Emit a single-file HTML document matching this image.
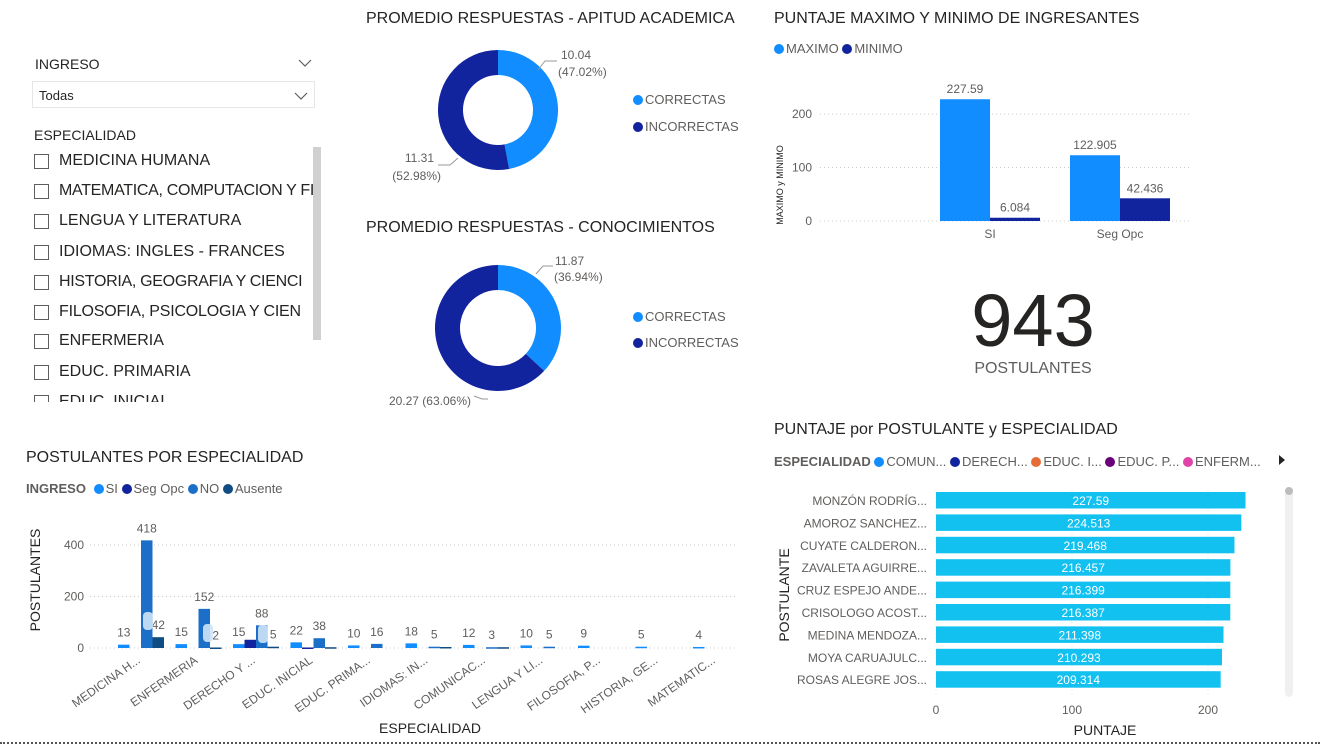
<!DOCTYPE html>
<html><head><meta charset="utf-8">
<style>
body{margin:0;width:1320px;height:745px;background:#fff;overflow:hidden;position:relative;font-family:"Liberation Sans","DejaVu Sans",sans-serif;color:#252423}
.abs{position:absolute;white-space:nowrap}
.title{font-size:16px;color:#252423;letter-spacing:0}
.lg{font-size:13px;color:#605e5c}
.dot{display:inline-block;width:10px;height:10px;border-radius:50%;margin-right:2px;vertical-align:-1px}
.cb{position:absolute;left:34px;width:15px;height:15px;border:1px solid #605e5c;box-sizing:border-box}
.it{position:absolute;left:59px;font-size:16px;color:#252423;white-space:nowrap}
svg text{font-family:"Liberation Sans","DejaVu Sans",sans-serif}
</style></head><body>

<div class="abs" style="left:35px;top:56px;font-size:14px">INGRESO</div>
<svg class="abs" style="left:298px;top:58px" width="14" height="10"><polyline points="1,2 7,8 13,2" fill="none" stroke="#605e5c" stroke-width="1.2"/></svg>
<div class="abs" style="left:32px;top:81px;width:283px;height:27px;border:1px solid #e6e6e6;box-sizing:border-box">
  <span style="position:absolute;left:6px;top:6px;font-size:13px;color:#252423">Todas</span>
  <svg style="position:absolute;right:6px;top:9px" width="14" height="10"><polyline points="1,2 7,8 13,2" fill="none" stroke="#605e5c" stroke-width="1.2"/></svg>
</div>
<div class="abs" style="left:34px;top:127px;font-size:14px">ESPECIALIDAD</div>
<div style="position:absolute;left:0;top:0;width:328px;height:402px;overflow:hidden">
<div class="cb" style="top:154px"></div><div class="it" style="top:152px">MEDICINA HUMANA</div>
<div class="cb" style="top:184px"></div><div class="it" style="top:182px;letter-spacing:-0.3px">MATEMATICA, COMPUTACION Y FI</div>
<div class="cb" style="top:214px"></div><div class="it" style="top:212px">LENGUA Y LITERATURA</div>
<div class="cb" style="top:245px"></div><div class="it" style="top:243px">IDIOMAS: INGLES - FRANCES</div>
<div class="cb" style="top:275px"></div><div class="it" style="top:273px;letter-spacing:-0.3px">HISTORIA, GEOGRAFIA Y CIENCI</div>
<div class="cb" style="top:305px"></div><div class="it" style="top:303px;letter-spacing:-0.2px">FILOSOFIA, PSICOLOGIA Y CIEN</div>
<div class="cb" style="top:334px"></div><div class="it" style="top:332px">ENFERMERIA</div>
<div class="cb" style="top:365px"></div><div class="it" style="top:363px">EDUC. PRIMARIA</div>
<div class="cb" style="top:395px"></div><div class="it" style="top:393px">EDUC. INICIAL</div>
</div>
<div class="abs" style="left:313px;top:147px;width:8px;height:193px;background:#d0d0d0"></div>

<div class="abs title" style="left:366px;top:10px">PROMEDIO RESPUESTAS - APITUD ACADEMICA</div>
<div class="abs title" style="left:366px;top:219px">PROMEDIO RESPUESTAS - CONOCIMIENTOS</div>
<div class="abs lg" style="left:633px;top:92px"><span class="dot" style="background:#118DFF"></span>CORRECTAS</div>
<div class="abs lg" style="left:633px;top:119px"><span class="dot" style="background:#12239E"></span>INCORRECTAS</div>
<div class="abs lg" style="left:633px;top:309px"><span class="dot" style="background:#118DFF"></span>CORRECTAS</div>
<div class="abs lg" style="left:633px;top:335px"><span class="dot" style="background:#12239E"></span>INCORRECTAS</div>
<svg class="abs" style="left:0;top:0" width="760" height="420" id="donuts"></svg>

<div class="abs title" style="left:774px;top:10px">PUNTAJE MAXIMO Y MINIMO DE INGRESANTES</div>
<div class="abs lg" style="left:774px;top:41px"><span class="dot" style="background:#118DFF"></span>MAXIMO <span class="dot" style="background:#12239E"></span>MINIMO</div>
<svg class="abs" style="left:760px;top:60px" width="560" height="190" id="maxmin"></svg>

<div class="abs" style="left:933px;top:278px;width:200px;text-align:center;font-size:74px;color:#252423">943</div>
<div class="abs" style="left:933px;top:360px;width:200px;text-align:center;font-size:16px;color:#605e5c">POSTULANTES</div>

<div class="abs title" style="left:26px;top:449px">POSTULANTES POR ESPECIALIDAD</div>
<div class="abs lg" style="left:26px;top:481px"><b style="color:#605e5c">INGRESO</b> <span class="dot" style="background:#118DFF;margin-left:4px"></span>SI <span class="dot" style="background:#12239E"></span>Seg Opc <span class="dot" style="background:#1C6FC8"></span>NO <span class="dot" style="background:#0E4C82"></span>Ausente</div>
<svg class="abs" style="left:0;top:500px" width="760" height="245" id="esp"></svg>

<div class="abs title" style="left:774px;top:421px">PUNTAJE por POSTULANTE y ESPECIALIDAD</div>
<div class="abs lg" style="left:774px;top:454px"><b style="color:#605e5c">ESPECIALIDAD</b> <span class="dot" style="background:#118DFF"></span>COMUN... <span class="dot" style="background:#12239E"></span>DERECH... <span class="dot" style="background:#E66C37"></span>EDUC. I... <span class="dot" style="background:#6B007B"></span>EDUC. P... <span class="dot" style="background:#E044A7"></span>ENFERM...</div>
<svg class="abs" style="left:1278px;top:454px" width="8" height="12"><polygon points="1,1 7,6 1,11" fill="#252423"/></svg>
<div class="abs" style="left:1285px;top:487px;width:8px;height:210px;background:#f0f0f0;border-radius:4px"><div style="width:8px;height:8px;border-radius:4px;background:#bdbdbd"></div></div>
<svg class="abs" style="left:760px;top:480px" width="520" height="265" id="punt"></svg>

<div class="abs" style="left:0;top:742px;width:1320px;border-top:2px dotted #555"></div>

<script>
const NS='http://www.w3.org/2000/svg';
function mk(parent,tag,attrs,text){const e=document.createElementNS(NS,tag);for(const k in attrs)e.setAttribute(k,attrs[k]);if(text!==undefined)e.textContent=text;parent.appendChild(e);return e;}

const donut1Values=[10.04,11.31];
const donut1Labels=['10.04','(47.02%)','11.31','(52.98%)'];
const donut2Values=[11.87,20.27];
const donut2Labels=['11.87','(36.94%)','20.27 (63.06%)'];
const donutColors=['#118DFF','#12239E'];
function arcPath(cx,cy,r,r0,a0,a1){
  const p=(a,rr)=>[cx+rr*Math.sin(a),cy-rr*Math.cos(a)];
  const large=(a1-a0)>Math.PI?1:0;
  const [x1,y1]=p(a0,r),[x2,y2]=p(a1,r),[x3,y3]=p(a1,r0),[x4,y4]=p(a0,r0);
  return `M${x1},${y1}A${r},${r} 0 ${large} 1 ${x2},${y2}L${x3},${y3}A${r0},${r0} 0 ${large} 0 ${x4},${y4}Z`;
}
function donut(svg,vals,cx,cy,r,r0,name){
  const tot=vals.reduce((a,b)=>a+b,0);let a=0;
  vals.forEach((v,i)=>{const a1=a+v/tot*2*Math.PI;
    const el=mk(svg,'path',{d:arcPath(cx,cy,r,r0,a,a1),fill:donutColors[i]});
    
    
    a=a1;});
}
const dsv=document.getElementById('donuts');
donut(dsv,donut1Values,498,110,60,35,'donut1');
donut(dsv,donut2Values,498,328,63,38,'donut2');
function lbl(x,y,t,anchor,name){const e=mk(dsv,'text',{x:x,y:y,'font-size':12,fill:'#605e5c','text-anchor':anchor||'start'},t);}
mk(dsv,'polyline',{points:'538,70 545,61 557,61',fill:'none',stroke:'#999'});
lbl(561,59,donut1Labels[0],'start','donut1-label-correct');lbl(558,76,donut1Labels[1],'start','donut1-label-correct-pct');
mk(dsv,'polyline',{points:'458,158 450,165 438,165',fill:'none',stroke:'#999'});
lbl(434,162,donut1Labels[2],'end','donut1-label-incorrect');lbl(441,180,donut1Labels[3],'end','donut1-label-incorrect-pct');
mk(dsv,'polyline',{points:'536,274 543,266 553,266',fill:'none',stroke:'#999'});
lbl(555,265,donut2Labels[0],'start','donut2-label-correct');lbl(554,281,donut2Labels[1],'start','donut2-label-correct-pct');
mk(dsv,'polyline',{points:'474,396 482,399 488,399',fill:'none',stroke:'#999'});
lbl(471,405,donut2Labels[2],'end','donut2-label-incorrect');

const mmCategories=['SI','Seg Opc'];
const mmMax=[227.59,122.905];
const mmMin=[6.084,42.436];
const mmTicks=[0,100,200];
(function(){
  const svg=document.getElementById('maxmin');
  const y0=161, k=0.535, bw=50;
  const y=v=>y0-v*k;
  const cx=i=>230+i*130;
  mmTicks.forEach(t=>{mk(svg,'line',{x1:60,x2:430,y1:y(t),y2:y(t),stroke:'#ccc','stroke-dasharray':'1,3'});
    const e=mk(svg,'text',{x:52,y:y(t)+4,'font-size':12,fill:'#605e5c','text-anchor':'end'},t);});
  const tt=mk(svg,'text',{transform:'translate(23,125) rotate(-90)','font-size':9,fill:'#252423','text-anchor':'middle'},'MAXIMO y MINIMO');
  
  mmCategories.forEach((c,i)=>{
    [[mmMax[i],'#118DFF',-bw,'max'],[mmMin[i],'#12239E',0,'min']].forEach(([v,col,off,n])=>{
      const r=mk(svg,'rect',{x:cx(i)+off,y:y(v),width:bw,height:v*k,fill:col});
      
      const t=mk(svg,'text',{x:cx(i)+off+bw/2,y:y(v)-6,'font-size':12,fill:'#605e5c','text-anchor':'middle'},String(v));
      
    });
    const t=mk(svg,'text',{x:cx(i),y:y0+17,'font-size':12,fill:'#605e5c','text-anchor':'middle'},c);
    
  });
})();

const espCategories=['MEDICINA H...','ENFERMERIA','DERECHO Y ...','EDUC. INICIAL','EDUC. PRIMA...','IDIOMAS: IN...','COMUNICAC...','LENGUA Y LI...','FILOSOFIA, P...','HISTORIA, GE...','MATEMATIC...'];
const espSI=[13,15,15,22,10,18,12,10,9,5,4];
const espSeg=[0,0,32,2,0,0,0,0,0,0,0];
const espNO=[418,152,88,38,16,5,3,5,0,0,0];
const espAus=[42,2,5,3,0,4,3,0,0,0,0];
const espShowLabel=[[1,0,1,1],[1,0,1,1],[1,0,1,1],[1,0,1,0],[1,0,1,0],[1,0,1,0],[1,0,1,0],[1,0,1,0],[1,0,0,0],[1,0,0,0],[1,0,0,0]];
const espTicks=[0,200,400];
(function(){
  const svg=document.getElementById('esp');
  const y0=148,k=0.2575,step=57.5,sw=11.5,x0=118;
  const y=v=>y0-v*k;
  espTicks.forEach(t=>{mk(svg,'line',{x1:90,x2:735,y1:y(t),y2:y(t),stroke:'#ccc','stroke-dasharray':'1,3'});
    const e=mk(svg,'text',{x:84,y:y(t)+4,'font-size':12,fill:'#605e5c','text-anchor':'end'},t);});
  const yt=mk(svg,'text',{transform:'translate(40,80) rotate(-90)','font-size':14,fill:'#252423','text-anchor':'middle'},'POSTULANTES');
  
  const xt=mk(svg,'text',{x:430,y:233,'font-size':14,fill:'#252423','text-anchor':'middle'},'ESPECIALIDAD');
  
  const series=[espSI,espSeg,espNO,espAus],cols=['#118DFF','#12239E','#1C6FC8','#0E4C82'],names=['si','seg-opc','no','ausente'];
  espCategories.forEach((c,i)=>{
    series.forEach((s,j)=>{
      const v=s[i];if(!v)return;
      const x=x0+i*step+j*sw;
      const r=mk(svg,'rect',{x:x,y:y(v),width:sw,height:Math.max(v*k,1.5),fill:cols[j]});
      
      if(espShowLabel[i][j]){const t=mk(svg,'text',{x:x+sw/2,y:y(v)-8,'font-size':12,fill:'#605e5c','text-anchor':'middle'},String(v));
        }
    });
    const cx=x0+i*step+23;
    const t=mk(svg,'text',{transform:`translate(${cx},${y0+14}) rotate(-35)`,'font-size':12,fill:'#605e5c','text-anchor':'end'},c);
    
  });
  [[143,112],[203,124],[258,125]].forEach(([x,yy])=>{const r=mk(svg,'rect',{x:x,y:yy,width:10,height:18,rx:4,fill:'#cfe3f6',opacity:0.9});
    });
})();

const pNames=['MONZÓN RODRÍG...','AMOROZ SANCHEZ...','CUYATE CALDERON...','ZAVALETA AGUIRRE...','CRUZ ESPEJO ANDE...','CRISOLOGO ACOST...','MEDINA MENDOZA...','MOYA CARUAJULC...','ROSAS ALEGRE JOS...'];
const pValues=[227.59,224.513,219.468,216.457,216.399,216.387,211.398,210.293,209.314];
const pTicks=[0,100,200];
(function(){
  const svg=document.getElementById('punt');
  const x0=176,k=1.36,rowTop=12,step=22.4,bh=16.5;
  const x=v=>x0+v*k;
  pTicks.forEach(t=>{mk(svg,'line',{x1:x(t),x2:x(t),y1:10,y2:218,stroke:'#ddd','stroke-dasharray':'1,3'});
    const e=mk(svg,'text',{x:x(t),y:234,'font-size':12,fill:'#605e5c','text-anchor':'middle'},t);});
  pNames.forEach((n,i)=>{
    const yy=rowTop+i*step;
    const r=mk(svg,'rect',{x:x0,y:yy,width:pValues[i]*k,height:bh,fill:'#12C1F0'});
    
    const t=mk(svg,'text',{x:x0+pValues[i]*k/2,y:yy+13,'font-size':12,fill:'#fff','text-anchor':'middle'},String(pValues[i]));
    
    const l=mk(svg,'text',{x:167,y:yy+13,'font-size':12,fill:'#605e5c','text-anchor':'end'},n);
    
  });
  const yt=mk(svg,'text',{transform:'translate(29,115) rotate(-90)','font-size':14,fill:'#252423','text-anchor':'middle'},'POSTULANTE');
  
  const xt=mk(svg,'text',{x:345,y:255,'font-size':14,fill:'#252423','text-anchor':'middle'},'PUNTAJE');
  
})();
</script>
</body></html>
